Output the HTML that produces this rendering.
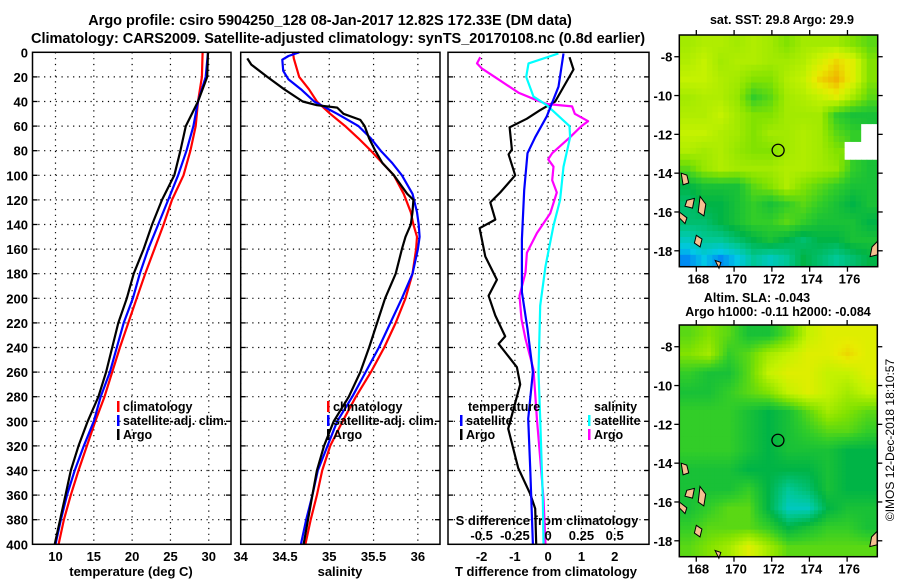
<!DOCTYPE html>
<html><head><meta charset="utf-8"><style>
html,body{margin:0;padding:0;background:#fff;}
svg{display:block;font-family:"Liberation Sans",sans-serif;font-weight:bold;}
</style></head><body>
<svg id="chart" width="900" height="580" viewBox="0 0 900 580" xmlns="http://www.w3.org/2000/svg">
<text x="330" y="25" font-size="14.5" text-anchor="middle">Argo profile: csiro 5904250_128 08-Jan-2017 12.82S 172.33E (DM data)</text>
<text x="338" y="43" font-size="14.5" text-anchor="middle">Climatology: CARS2009. Satellite-adjusted climatology: synTS_20170108.nc (0.8d earlier)</text>
<text x="131" y="576" font-size="13" text-anchor="middle">temperature (deg C)</text>
<text x="340" y="576" font-size="13" text-anchor="middle">salinity</text>
<text x="546" y="576" font-size="13" text-anchor="middle">T difference from climatology</text>
<text x="547" y="525" font-size="13" text-anchor="middle">S difference from climatology</text>
<text x="782" y="24" font-size="12.5" text-anchor="middle">sat. SST: 29.8 Argo: 29.9</text>
<text x="757" y="302" font-size="12.5" text-anchor="middle">Altim. SLA: -0.043</text>
<text x="778" y="316" font-size="12.5" text-anchor="middle">Argo h1000: -0.11 h2000: -0.084</text>
<text transform="translate(894,440) rotate(-90)" font-size="12" font-weight="normal" text-anchor="middle">©IMOS 12-Dec-2018 18:10:57</text>
<g id="plots"></g>
</svg>
<script>
// ---------- profile data ----------
const depthTick = [0,20,40,60,80,100,120,140,160,180,200,220,240,260,280,300,320,340,360,380,400];
const tempTicks = [10,15,20,25,30];
const salTicks = [34,34.5,35,35.5,36];
const salTickLabels = ["34","34.5","35","35.5","36"];
const tdTicks = [-2,-1,0,1,2];
const sdTicks = [-0.5,-0.25,0,0.25,0.5];
const sdTickLabels = ["-0.5","-0.25","0","0.25","0.5"];

const depthT = [0,20,40,60,80,100,120,140,160,180,200,220,240,260,280,300,320,340,360,380,400];
const tClim = [29.2,29.1,28.6,28.3,27.6,26.7,25.2,24.1,22.9,21.7,20.6,19.5,18.4,17.4,16.4,15.2,14.1,13.0,12.0,11.1,10.4];
const tSat  = [29.9,29.6,28.6,28.0,27.1,26.0,24.7,23.4,22.1,21.0,20.1,18.9,18.0,17.1,15.9,15.0,13.7,12.5,11.5,10.7,10.0];
const tArgo = [29.9,29.8,28.6,27.0,26.3,25.5,23.9,22.6,21.5,20.2,19.3,18.2,17.4,16.6,15.6,14.2,13.0,12.0,11.3,10.6,9.9];

const depthSArgo = [5,10,20,30,40,43,45,50,55,60,70,80,90,100,115,120,130,140,150,160,180,200,220,240,260,280,300,320,340,360,380,400];
const sArgo = [34.075,34.12,34.30,34.49,34.70,34.86,35.09,35.16,35.35,35.40,35.45,35.52,35.60,35.73,35.88,35.95,35.94,35.92,35.86,35.82,35.75,35.63,35.54,35.45,35.35,35.22,35.05,34.94,34.86,34.81,34.76,34.71];
const depthSSat = [0,3,6,15,22,30,40,50,60,70,80,90,100,115,130,140,150,160,180,200,220,240,260,280,300,320,340,360,380,400];
const sSat = [34.66,34.54,34.47,34.48,34.54,34.68,34.83,35.09,35.33,35.47,35.58,35.71,35.82,35.94,35.99,36.01,36.02,36.0,35.94,35.82,35.69,35.56,35.41,35.26,35.09,34.98,34.87,34.81,34.74,34.68];
const depthSClim = [0,5,20,30,40,50,60,70,80,90,100,115,130,140,150,160,180,200,220,240,260,280,300,320,340,360,380,400];
const sClim = [34.59,34.6,34.66,34.77,34.86,35.01,35.18,35.33,35.47,35.60,35.73,35.84,35.92,35.95,35.99,35.98,35.94,35.86,35.75,35.62,35.47,35.30,35.15,35.01,34.92,34.86,34.79,34.73];

const depthDTArgo = [4,14,40,47,54,61,79,83,100,114,122,136,143,166,185,198,214,231,237,256,270,306,338,359,371,400];
const dtArgo = [0.64,0.76,0.21,-0.24,-0.64,-1.16,-1.09,-1.19,-0.99,-1.44,-1.74,-1.59,-2.06,-1.89,-1.54,-1.79,-1.59,-1.29,-1.49,-0.94,-0.84,-1.2,-0.9,-0.54,-0.39,-0.36];
const depthDTSat = [1,28,52,69,82,112,152,195,225,260,298,338,400];
const dtSat = [0.46,0.31,-0.04,-0.39,-0.62,-0.72,-0.79,-0.79,-0.62,-0.46,-0.6,-0.54,-0.46];
const depthDSSat = [1,9,20,36,43,60,69,93,120,141,174,206,260,298,363,400];
const dsSat = [0.077,-0.148,-0.165,-0.11,-0.01,0.16,0.165,0.115,0.09,0.04,-0.02,-0.06,-0.073,-0.06,-0.04,-0.035];
const depthDSArgo = [4,9,13,23,33,39,42,44,50,56,60,69,82,87,93,104,114,131,147,163,179,198,217,233,258,274,298,330,363,400];
const dsArgo = [-0.51,-0.535,-0.50,-0.36,-0.22,-0.085,-0.01,0.18,0.2,0.30,0.25,0.165,0.03,0,0.04,0.03,0.065,0.015,-0.085,-0.16,-0.17,-0.215,-0.2,-0.17,-0.11,-0.1,-0.085,-0.06,-0.035,-0.02];

// ---------- map data ----------
const lonTicks = [168,170,172,174,176];
const latTicks = [-8,-10,-12,-14,-16,-18];
const argoLon = 172.33;
const argoLat = -12.82;
const sstGrid = [
 [0.7,0.72,0.72,0.7,0.72,0.7,0.65,0.7,0.7,0.7,0.65,0.6],
 [0.72,0.75,0.7,0.72,0.72,0.7,0.7,0.72,0.78,0.85,0.8,0.65],
 [0.75,0.75,0.72,0.7,0.65,0.65,0.72,0.75,0.85,0.9,0.8,0.65],
 [0.7,0.72,0.72,0.68,0.55,0.6,0.7,0.72,0.75,0.8,0.7,0.6],
 [0.72,0.72,0.75,0.7,0.65,0.65,0.7,0.7,0.7,0.55,0.5,0.5],
 [0.75,0.75,0.72,0.7,0.65,0.7,0.7,0.72,0.7,0.6,0.55,null],
 [0.72,0.7,0.72,0.68,0.65,0.65,0.7,0.72,0.7,0.65,null,null],
 [0.6,0.68,0.72,0.7,0.7,0.7,0.72,0.72,0.7,0.68,0.55,0.5],
 [0.45,0.5,0.5,0.5,0.6,0.65,0.72,0.65,0.6,0.55,0.5,0.5],
 [0.4,0.45,0.45,0.5,0.55,0.5,0.55,0.6,0.55,0.5,0.45,0.5],
 [0.4,0.4,0.45,0.5,0.55,0.55,0.6,0.55,0.5,0.5,0.5,0.45],
 [0.3,0.35,0.35,0.4,0.45,0.5,0.45,0.4,0.45,0.45,0.5,0.5],
 [0.2,0.25,0.2,0.25,0.35,0.3,0.35,0.45,0.4,0.35,0.4,0.45]
];
const slaGrid = [
 [0.6,0.65,0.6,0.5,0.5,0.6,0.75,0.8,0.8,0.8],
 [0.65,0.7,0.55,0.6,0.7,0.75,0.8,0.8,0.85,0.8],
 [0.55,0.5,0.5,0.6,0.75,0.8,0.8,0.75,0.75,0.8],
 [0.5,0.5,0.55,0.6,0.65,0.75,0.8,0.75,0.7,0.75],
 [0.55,0.55,0.55,0.5,0.45,0.5,0.6,0.7,0.65,0.6],
 [0.55,0.55,0.55,0.5,0.45,0.5,0.55,0.6,0.6,0.55],
 [0.55,0.55,0.55,0.5,0.45,0.5,0.5,0.5,0.45,0.45],
 [0.5,0.5,0.5,0.45,0.45,0.45,0.45,0.5,0.45,0.45],
 [0.5,0.5,0.5,0.55,0.45,0.35,0.4,0.5,0.45,0.45],
 [0.5,0.55,0.6,0.6,0.45,0.3,0.3,0.45,0.5,0.5],
 [0.55,0.6,0.6,0.6,0.55,0.45,0.5,0.55,0.55,0.5],
 [0.6,0.65,0.7,0.8,0.7,0.6,0.6,0.6,0.6,0.6]
];
const islandsLon = [[167.2,167.5,167.6,167.3],[167.5,167.9,167.8,167.4],[168.2,168.5,168.4,168.1],[167.1,167.5,167.4,167.1],[168.0,168.3,168.2,167.9],[169.0,169.3,169.2],[177.3,177.6,177.6,177.2]];
const islandsLat = [[-14.0,-14.1,-14.5,-14.6],[-15.4,-15.3,-15.8,-15.7],[-15.2,-15.6,-16.2,-16.0],[-16.0,-16.3,-16.6,-16.3],[-17.2,-17.4,-17.8,-17.6],[-18.5,-18.6,-18.9],[-17.8,-17.5,-18.2,-18.3]];

// ---------- helpers ----------
const NS = "http://www.w3.org/2000/svg";
const root = document.getElementById('plots');
function mk(tag, attrs, parent){ const e=document.createElementNS(NS,tag); for(const k in attrs) e.setAttribute(k,attrs[k]); (parent||root).appendChild(e); return e; }

const yTop = 52.3, yBot = 544.3;
function yD(d){ return yTop + (yBot-yTop)*d/400; }

const panels = [
 {name:'temperature-panel', x0:32.5, x1:231, v0:7.0, v1:32.9},
 {name:'salinity-panel', x0:240.7, x1:440, v0:34, v1:36.25},
 {name:'difference-panel', x0:448, x1:649, v0:-3.01, v1:3.03}
];
function sx(p,v){ return p.x0 + (p.x1-p.x0)*(v-p.v0)/(p.v1-p.v0); }
const P3S = {x0:448, x1:649, v0:-0.7525, v1:0.7575};

function grid(p, ticks, g){
  ticks.forEach(t=>{ const x=sx(p,t);
    const l=mk('line',{x1:x,x2:x,y1:yTop,y2:yBot,stroke:'#000','stroke-width':1.2,'stroke-dasharray':'1.2 4.6'},g);
      });
  depthTick.forEach(d=>{ if(d===0||d===400) return; const y=yD(d);
    const l=mk('line',{x1:p.x0,x2:p.x1,y1:y,y2:y,stroke:'#000','stroke-width':1.2,'stroke-dasharray':'1.2 4.6'},g);
     
    mk('line',{x1:p.x0,x2:p.x0+5,y1:y,y2:y,stroke:'#000','stroke-width':1.3},g);
    mk('line',{x1:p.x1-5,x2:p.x1,y1:y,y2:y,stroke:'#000','stroke-width':1.3},g);
  });
}
function series(xf, depths, vals, color, name, g, w){
  let d='';
  vals.forEach((v,i)=>{ d += (i?'L':'M') + xf(v).toFixed(1) + ' ' + yD(depths[i]).toFixed(1); });
  const pth = mk('path',{d:d,fill:'none',stroke:color,'stroke-width':w||2.2,'stroke-linejoin':'round'},g);
  
  
}
function frame(p,g){
  const r = mk('rect',{x:p.x0,y:yTop,width:p.x1-p.x0,height:yBot-yTop,fill:'none',stroke:'#000','stroke-width':1.5},g);
   
}
function legendEntry(x,y,color,label,g){
  const e = mk('g',{},g);
   
  mk('rect',{x:x,y:y-10,width:2.5,height:11,fill:color},e);
  const t = mk('text',{x:x+6,y:y,'font-size':12.5},e); t.textContent = label;
}

// panel 1
const g1 = mk('g',{});  
grid(panels[0], tempTicks, g1);
series(v=>sx(panels[0],v), depthT, tClim, '#ff0000', 'temperature-climatology-line', g1);
series(v=>sx(panels[0],v), depthT, tSat, '#0000ff', 'temperature-satellite-line', g1);
series(v=>sx(panels[0],v), depthT, tArgo, '#000000', 'temperature-argo-line', g1);
frame(panels[0], g1);
tempTicks.forEach(t=>{ const tx=mk('text',{x:sx(panels[0],t),y:561,'font-size':13,'text-anchor':'middle'},g1); tx.textContent=t;
    });
depthTick.forEach(d=>{ const tx=mk('text',{x:28,y:yD(d)+5,'font-size':13,'text-anchor':'end'},g1); tx.textContent=d;
    });
legendEntry(117,411,'#ff0000','climatology',g1);
legendEntry(117,425,'#0000ff','satellite-adj. clim.',g1);
legendEntry(117,439,'#000000','Argo',g1);

// panel 2
const g2 = mk('g',{});  
grid(panels[1], salTicks, g2);
series(v=>sx(panels[1],v), depthSClim, sClim, '#ff0000', 'salinity-climatology-line', g2);
series(v=>sx(panels[1],v), depthSSat, sSat, '#0000ff', 'salinity-satellite-line', g2);
series(v=>sx(panels[1],v), depthSArgo, sArgo, '#000000', 'salinity-argo-line', g2);
frame(panels[1], g2);
salTicks.forEach((t,i)=>{ const tx=mk('text',{x:sx(panels[1],t),y:561,'font-size':13,'text-anchor':'middle'},g2); tx.textContent=salTickLabels[i];
    });
legendEntry(327,411,'#ff0000','climatology',g2);
legendEntry(327,425,'#0000ff','satellite-adj. clim.',g2);
legendEntry(327,439,'#000000','Argo',g2);

// panel 3
const g3 = mk('g',{});  
grid(panels[2], tdTicks, g3);
series(v=>sx(panels[2],v), depthDTArgo, dtArgo, '#000000', 'temperature-diff-argo-line', g3);
series(v=>sx(P3S,v), depthDSArgo, dsArgo, '#ff00ff', 'salinity-diff-argo-line', g3);
series(v=>sx(P3S,v), depthDSSat, dsSat, '#00ffff', 'salinity-diff-satellite-line', g3);
series(v=>sx(panels[2],v), depthDTSat, dtSat, '#0000ff', 'temperature-diff-satellite-line', g3);
frame(panels[2], g3);
tdTicks.forEach(t=>{ const tx=mk('text',{x:sx(panels[2],t),y:561,'font-size':13,'text-anchor':'middle'},g3); tx.textContent=t;
    });
sdTicks.forEach((t,i)=>{ const tx=mk('text',{x:sx(P3S,t),y:540,'font-size':13,'text-anchor':'middle'},g3); tx.textContent=sdTickLabels[i];
    });
const lt1=mk('text',{x:468,y:411,'font-size':12.5},g3); lt1.textContent='temperature';
 
legendEntry(460,425,'#0000ff','satellite',g3);
legendEntry(460,439,'#000000','Argo',g3);
const lt2=mk('text',{x:594,y:411,'font-size':12.5},g3); lt2.textContent='salinity';
 
legendEntry(588,425,'#00ffff','satellite',g3);
legendEntry(588,439,'#ff00ff','Argo',g3);

// ---------- maps ----------
const cmStops = [[0.15,[0,80,255]],[0.25,[0,200,230]],[0.35,[0,200,150]],[0.45,[0,180,70]],[0.55,[50,205,40]],[0.65,[130,226,0]],[0.75,[196,242,0]],[0.82,[232,236,0]],[0.9,[240,180,0]]];
function cmap(v){
  if(v<=cmStops[0][0]) return 'rgb('+cmStops[0][1].join(',')+')';
  for(let i=1;i<cmStops.length;i++){ if(v<=cmStops[i][0]){ const a=cmStops[i-1],b=cmStops[i]; const f=(v-a[0])/(b[0]-a[0]);
    return 'rgb('+a[1].map((c,j)=>Math.round(c+(b[1][j]-c)*f)).join(',')+')'; } }
  return 'rgb('+cmStops[cmStops.length-1][1].join(',')+')';
}
function sampleGrid(G, fr, fc){
  const rows=G.length, cols=G[0].length;
  const nr=Math.min(rows-1,Math.max(0,Math.floor(fr+0.5))), nc=Math.min(cols-1,Math.max(0,Math.floor(fc+0.5)));
  if(G[nr][nc]===null) return null;
  const r0=Math.max(0,Math.min(rows-1,Math.floor(fr))), c0=Math.max(0,Math.min(cols-1,Math.floor(fc)));
  const r1=Math.min(rows-1,r0+1), c1=Math.min(cols-1,c0+1);
  const tr=Math.max(0,Math.min(1,fr-r0)), tc=Math.max(0,Math.min(1,fc-c0));
  let s=0,w=0;
  [[r0,c0,(1-tr)*(1-tc)],[r0,c1,(1-tr)*tc],[r1,c0,tr*(1-tc)],[r1,c1,tr*tc]].forEach(q=>{
    const v=G[q[0]][q[1]]; if(v!==null){ s+=v*q[2]; w+=q[2]; } });
  return w>0 ? s/w : G[nr][nc];
}
function drawMap(name, mx0, mx1, my0, my1, gridVals, sub){
  const lon0=167.1, lon1=177.6, lat0=-6.88, lat1=-18.82;
  const X = lo => mx0 + (mx1-mx0)*(lo-lon0)/(lon1-lon0);
  const Y = la => my0 + (my1-my0)*(la-lat0)/(lat1-lat0);
  const g = mk('g',{});  
  const rows=gridVals.length, cols=gridVals[0].length;
  const R=rows*sub, C=cols*sub;
  const cw=(mx1-mx0)/C, ch=(my1-my0)/R;
  for(let r=0;r<R;r++){ for(let c=0;c<C;c++){
    const fr=(r+0.5)/sub-0.5, fc=(c+0.5)/sub-0.5;
    const v=sampleGrid(gridVals,fr,fc);
    const cell = mk('rect',{x:(mx0+c*cw).toFixed(2),y:(my0+r*ch).toFixed(2),width:(cw+0.5).toFixed(2),height:(ch+0.5).toFixed(2),fill:v===null?'#ffffff':cmap(v)},g);
    
    
  } }
  islandsLon.forEach((lons,i)=>{
    const pts = lons.map((lo,j)=>X(lo).toFixed(1)+','+Y(islandsLat[i][j]).toFixed(1)).join(' ');
    const isl = mk('polygon',{points:pts,fill:'#f5c090',stroke:'#000','stroke-width':1},g);
     
  });
  const mkr = mk('circle',{cx:X(argoLon),cy:Y(argoLat),r:6,fill:'none',stroke:'#000','stroke-width':1.3},g);
   
  const fr = mk('rect',{x:mx0,y:my0,width:mx1-mx0,height:my1-my0,fill:'none',stroke:'#000','stroke-width':1.5},g);
   
  lonTicks.forEach(lo=>{ const x=X(lo);
    mk('line',{x1:x,x2:x,y1:my0-5,y2:my0,stroke:'#000','stroke-width':1.3},g);
    mk('line',{x1:x,x2:x,y1:my1,y2:my1+5,stroke:'#000','stroke-width':1.3},g);
    const t=mk('text',{x:x+2,y:my1+17,'font-size':13,'text-anchor':'middle'},g); t.textContent=lo;
      });
  latTicks.forEach(la=>{ const y=Y(la);
    mk('line',{x1:mx0-5,x2:mx0,y1:y,y2:y,stroke:'#000','stroke-width':1.3},g);
    mk('line',{x1:mx1,x2:mx1+5,y1:y,y2:y,stroke:'#000','stroke-width':1.3},g);
    const t=mk('text',{x:mx0-7,y:y+5,'font-size':13,'text-anchor':'end'},g); t.textContent=la;
      });
}
drawMap('sst-map', 679.3, 877.7, 35, 266.7, sstGrid, 3);
drawMap('sla-map', 679.3, 877.3, 325, 556.7, slaGrid, 5);
</script>
</body></html>
